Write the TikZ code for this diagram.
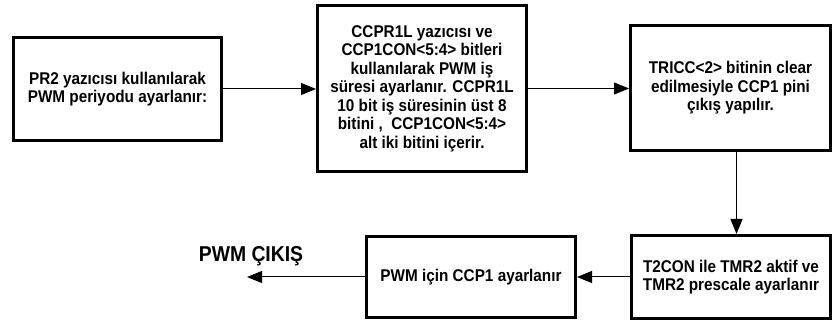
\documentclass[tikz,border=0pt]{standalone}
\usepackage{fontspec}
\setmainfont{Liberation Sans}
\newfontfamily\blokfont[FakeStretch=0.9]{Liberation Sans}
\usetikzlibrary{arrows.meta}

\tikzset{
  blok/.style={draw, line width=3pt, align=center, inner sep=0pt,
    font=\blokfont\fontsize{17}{18.5}\selectfont\bfseries},
  ok/.style={-{Triangle[length=15pt,width=12pt]}, line width=1pt},
}

\begin{document}
\begin{tikzpicture}[x=1pt,y=1pt]
	\useasboundingbox (0,0) rectangle (833,324);
	% upper row
	\node[blok, minimum width=208pt, minimum height=103pt] (pr2) at (117.5,235) {PR2 yazıcısı kullanılarak\\PWM periyodu ayarlanır:};
	\node[blok, minimum width=209pt, minimum height=166pt] (ccpr) at (422,235.5) {CCPR1L yazıcısı ve\\CCP1CON<5:4> bitleri\\kullanılarak PWM iş\\süresi ayarlanır. CCPR1L\\10 bit iş süresinin üst 8\\bitini ,\ \ CCP1CON<5:4>\\alt iki bitini içerir.};
	\node[blok, minimum width=200pt, minimum height=125pt] (tris) at (730.5,236) {TRICC<2> bitinin clear\\edilmesiyle CCP1 pini\\çıkış yapılır.};
	% lower row
	\node[blok, minimum width=199pt, minimum height=83pt] (tmr) at (731,47) {T2CON ile TMR2 aktif ve\\TMR2 prescale ayarlanır};
	\node[blok, minimum width=209pt, minimum height=81pt] (ccp) at (471,47) {PWM için CCP1 ayarlanır};
	% output
	\coordinate (cikis) at (247,47);
	\node[font=\blokfont\fontsize{21.5}{23}\selectfont\bfseries] (cikislbl) at (251,67.5) {PWM ÇIKIŞ};
	% connectors
	\draw[ok] (pr2.east) -- (pr2.east -| ccpr.west);
	\draw[ok] (ccpr.east) -- (ccpr.east -| tris.west);
	\draw[ok] ([xshift=6pt]tris.south) -- ([xshift=6pt]tris.south |- tmr.north);
	\draw[ok] (tmr.west) -- (ccp.east);
	\draw[ok] (ccp.west) -- (cikis);
\end{tikzpicture}
\end{document}
